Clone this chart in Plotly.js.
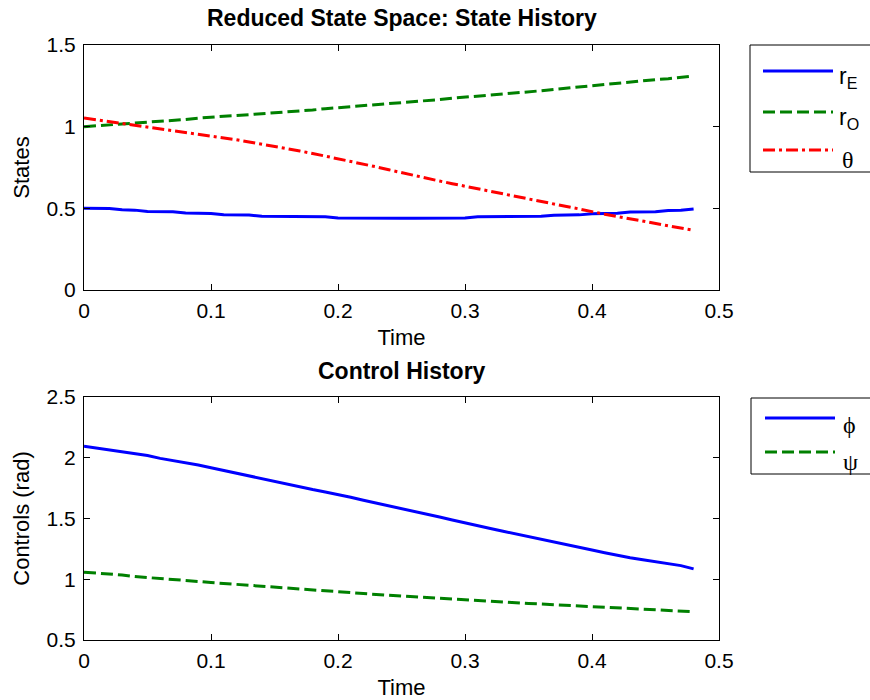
<!DOCTYPE html>
<html>
<head>
<meta charset="utf-8">
<script src="https://cdn.plot.ly/plotly-3.0.1.min.js"></script>
<style>html,body{margin:0;padding:0;background:#fff;}#chart{width:870px;height:700px;}</style>
</head>
<body>
<div id="chart"></div>
<script>
// ---- data ----
var time = [0,0.01,0.02,0.03,0.04,0.05,0.06,0.07,0.08,0.09,
            0.10,0.11,0.12,0.13,0.14,0.15,0.16,0.17,0.18,0.19,
            0.20,0.21,0.22,0.23,0.24,0.25,0.26,0.27,0.28,0.29,
            0.30,0.31,0.32,0.33,0.34,0.35,0.36,0.37,0.38,0.39,
            0.40,0.41,0.42,0.43,0.44,0.45,0.46,0.47,0.48];

var rE = [0.500,0.500,0.499,0.491,0.489,0.481,0.480,0.479,0.471,0.470,
          0.469,0.461,0.460,0.459,0.451,0.450,0.450,0.449,0.449,0.448,
          0.441,0.440,0.440,0.440,0.440,0.440,0.440,0.440,0.440,0.440,
          0.441,0.448,0.449,0.449,0.449,0.450,0.451,0.458,0.459,0.460,
          0.467,0.469,0.470,0.477,0.478,0.479,0.487,0.488,0.496];

var rO = [1.000,1.005,1.012,1.018,1.024,1.028,1.033,1.038,1.044,1.052,
          1.060,1.064,1.068,1.073,1.079,1.084,1.090,1.096,1.102,1.110,
          1.116,1.120,1.126,1.134,1.142,1.148,1.152,1.158,1.166,1.174,
          1.180,1.186,1.194,1.201,1.207,1.214,1.220,1.228,1.236,1.244,
          1.252,1.258,1.266,1.272,1.280,1.288,1.294,1.302,1.310];

var theta = [1.053,1.042,1.032,1.022,1.011,1.000,0.990,0.978,0.968,0.957,
             0.946,0.934,0.920,0.906,0.893,0.880,0.866,0.851,0.836,0.820,
             0.805,0.788,0.771,0.754,0.736,0.718,0.700,0.684,0.667,0.651,
             0.635,0.619,0.603,0.588,0.572,0.557,0.541,0.526,0.511,0.496,
             0.479,0.464,0.450,0.436,0.422,0.408,0.394,0.379,0.365];

var phi = [2.095,2.080,2.065,2.045,2.032,2.018,1.995,1.978,1.962,1.940,
           1.918,1.895,1.870,1.848,1.825,1.803,1.782,1.758,1.738,1.718,
           1.698,1.675,1.650,1.628,1.603,1.580,1.558,1.535,1.512,1.487,
           1.462,1.440,1.418,1.395,1.372,1.350,1.328,1.305,1.283,1.262,
           1.240,1.218,1.196,1.177,1.160,1.142,1.128,1.112,1.085];

var psi = [1.058,1.050,1.045,1.035,1.022,1.015,1.008,0.998,0.990,0.982,
           0.973,0.966,0.957,0.950,0.943,0.935,0.928,0.920,0.912,0.905,
           0.897,0.890,0.882,0.874,0.866,0.860,0.855,0.850,0.843,0.837,
           0.830,0.823,0.816,0.810,0.806,0.800,0.796,0.791,0.786,0.781,
           0.776,0.770,0.763,0.757,0.753,0.750,0.745,0.741,0.733];

var stateNames = ["r<sub>E</sub>", "r<sub>O</sub>", "\u03b8"];
var controlNames = ["\u03d5", "\u03c8"];
var xTickVals = [0, 0.1, 0.2, 0.3, 0.4, 0.5];
var xTickText = ["0", "0.1", "0.2", "0.3", "0.4", "0.5"];
var yTopTickVals = [0, 0.5, 1, 1.5];
var yTopTickText = ["0", "0.5", "1", "1.5"];
var yBotTickVals = [0.5, 1, 1.5, 2, 2.5];
var yBotTickText = ["0.5", "1", "1.5", "2", "2.5"];

// ---- styles ----
var BLUE = "#0000ff", GREEN = "#008000", RED = "#ff0000";
var DASH = "12px,5px";
var DASHDOT = "12px,4px,3px,4px";
var LW = 3;
var FONT = "Liberation Sans, Arial, Helvetica, sans-serif";
var SERIF = "Liberation Serif, Times New Roman, serif";
var TICKSIZE = 21, LABELSIZE = 22, TITLESIZE = 23;

var W = 870, H = 700;
var M = {l: 84, r: 151, t: 45, b: 60};
var PW = W - M.l - M.r, PH = H - M.t - M.b;
function px(x) { return (x - M.l) / PW; }
function py(y) { return (H - M.b - y) / PH; }

var traces = [
  {x: time, y: rE, xaxis: "x", yaxis: "y", mode: "lines", name: stateNames[0], showlegend: false,
   line: {color: BLUE, width: LW}},
  {x: time, y: rO, xaxis: "x", yaxis: "y", mode: "lines", name: stateNames[1], showlegend: false,
   line: {color: GREEN, width: LW, dash: DASH}},
  {x: time, y: theta, xaxis: "x", yaxis: "y", mode: "lines", name: stateNames[2], showlegend: false,
   line: {color: RED, width: LW, dash: DASHDOT}},
  {x: time, y: phi, xaxis: "x2", yaxis: "y2", mode: "lines", name: controlNames[0], showlegend: false,
   line: {color: BLUE, width: LW}},
  {x: time, y: psi, xaxis: "x2", yaxis: "y2", mode: "lines", name: controlNames[1], showlegend: false,
   line: {color: GREEN, width: LW, dash: DASH}}
];

function xax(anchor) {
  return {
    anchor: anchor, domain: [0, 1], range: [0, 0.5],
    tickmode: "array", tickvals: xTickVals, ticktext: xTickText,
    ticks: "inside", ticklen: 6, tickcolor: "#000", tickwidth: 1,
    showline: true, linecolor: "#000", linewidth: 1, mirror: "ticks",
    showgrid: false, zeroline: false,
    tickfont: {family: FONT, size: TICKSIZE, color: "#000"},
    ticklabelstandoff: 2,
    title: {text: "Time", font: {family: FONT, size: LABELSIZE, color: "#000"}, standoff: 8},
    automargin: false, fixedrange: true
  };
}
function yax(anchor, dom, rng, tv, tt, title) {
  return {
    anchor: anchor, domain: dom, range: rng,
    tickmode: "array", tickvals: tv, ticktext: tt,
    ticks: "inside", ticklen: 6, tickcolor: "#000", tickwidth: 1,
    showline: true, linecolor: "#000", linewidth: 1, mirror: "ticks",
    showgrid: false, zeroline: false,
    tickfont: {family: FONT, size: TICKSIZE, color: "#000"},
    ticklabelstandoff: 3,
    title: {text: title, font: {family: FONT, size: LABELSIZE, color: "#000"}, standoff: 10},
    automargin: false, fixedrange: true
  };
}

var topDom = [py(290), 1];
var botDom = [0, py(397)];

var shapes = [];
var annotations = [];

// subplot titles
annotations.push({xref: "paper", yref: "paper", x: 0.5, y: py(18), xanchor: "center", yanchor: "middle",
  text: "<b>Reduced State Space: State History</b>", showarrow: false,
  font: {family: FONT, size: TITLESIZE, color: "#000"}});
annotations.push({xref: "paper", yref: "paper", x: 0.5, y: py(371), xanchor: "center", yanchor: "middle",
  text: "<b>Control History</b>", showarrow: false,
  font: {family: FONT, size: TITLESIZE, color: "#000"}});

// legends (drawn boxes)
function legendBox(x0, y0, x1, y1) {
  shapes.push({type: "rect", xref: "paper", yref: "paper", x0: px(x0), x1: px(x1), y0: py(y0), y1: py(y1),
    line: {color: "#000", width: 1}, fillcolor: "#fff", layer: "above"});
}
function legendItem(lineY, textY, xa, xb, tx, trace, label, serif) {
  shapes.push({type: "line", xref: "paper", yref: "paper", x0: px(xa), x1: px(xb), y0: py(lineY), y1: py(lineY),
    line: {color: trace.line.color, width: LW, dash: trace.line.dash || "solid"}, layer: "above"});
  annotations.push({xref: "paper", yref: "paper", x: px(tx), y: py(textY), xanchor: "left", yanchor: "middle",
    text: label, showarrow: false,
    font: {family: serif ? SERIF : FONT, size: serif ? 24 : 23, color: "#000"}});
}
legendBox(750, 45, 900, 172);
legendItem(71, 77, 763, 833, 837, traces[0], stateNames[0], false);
legendItem(112, 118, 763, 833, 837, traces[1], stateNames[1], false);
legendItem(150, 160, 763, 833, 840, traces[2], stateNames[2], true);
legendBox(751, 398, 900, 474);
legendItem(418, 425, 765, 835, 841, traces[3], controlNames[0], true);
legendItem(452, 462, 765, 835, 841, traces[4], controlNames[1], true);

var layout = {
  width: W, height: H,
  margin: M,
  paper_bgcolor: "#fff", plot_bgcolor: "#fff",
  showlegend: false,
  font: {family: FONT, size: TICKSIZE, color: "#000"},
  xaxis: xax("y"),
  yaxis: yax("x", topDom, [0, 1.5], yTopTickVals, yTopTickText, "States"),
  xaxis2: xax("y2"),
  yaxis2: yax("x2", botDom, [0.5, 2.5], yBotTickVals, yBotTickText, "Controls (rad)"),
  shapes: shapes,
  annotations: annotations
};

Plotly.newPlot("chart", traces, layout, {displayModeBar: false, staticPlot: true});
</script>
</body>
</html>
